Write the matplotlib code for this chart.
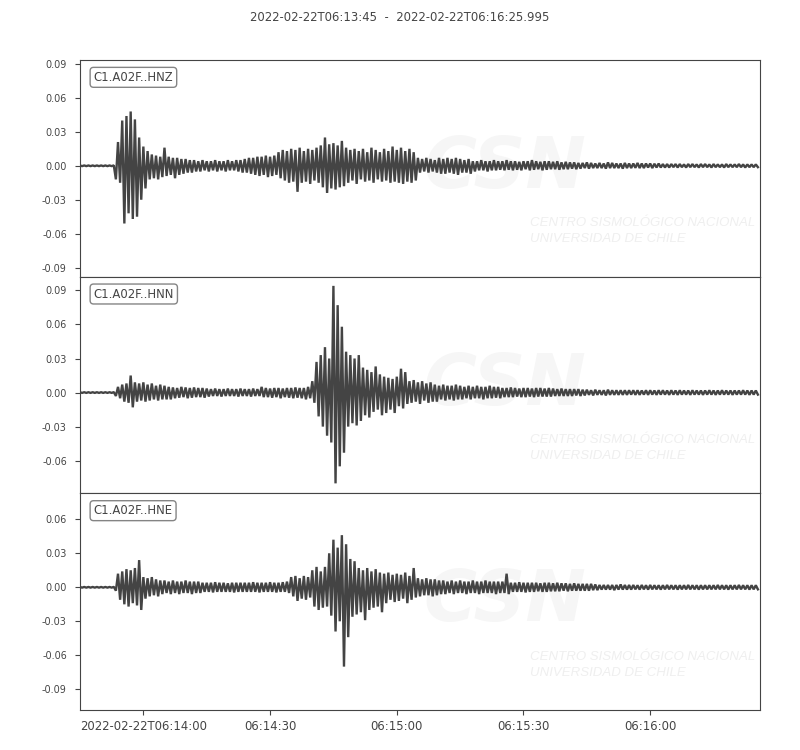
import numpy as np
import matplotlib
matplotlib.use("Agg")
import matplotlib.pyplot as plt
from matplotlib.ticker import MultipleLocator, FixedLocator, FixedFormatter, FormatStrFormatter

# ---------------- data (amplitudes in thousandths, one upper/lower peak per second) ----------
TITLE = "2022-02-22T06:13:45  -  2022-02-22T06:16:25.995"
CHANNELS = ["C1.A02F..HNZ", "C1.A02F..HNN", "C1.A02F..HNE"]
DURATION = 160.995  # seconds after 06:13:45
XTICK_POS = [15, 45, 75, 105, 135]
XTICK_LABELS = ["2022-02-22T06:14:00", "06:14:30", "06:15:00", "06:15:30", "06:16:00"]
YLIMS = [(-0.098, 0.0935), (-0.0888, 0.1021), (-0.1083, 0.0829)]

HNZ_UP = [0.3, 0.3, 0.3, 0.3, 0.3, 0.3, 0.3, 0.3, 0.4, 21,
          40, 44, 48, 41, 25, 17, 13, 10, 9, 8,
          16, 8, 7, 7, 6, 6, 5, 5, 4, 5,
          4, 4, 5, 4, 4, 5, 4, 5, 5, 6,
          7, 7, 8, 8, 9, 8, 9, 12, 14, 13,
          15, 14, 16, 13, 15, 14, 16, 18, 25, 19,
          20, 18, 22, 16, 14, 15, 13, 15, 12, 16,
          14, 12, 15, 13, 17, 14, 16, 13, 15, 12,
          7, 6, 7, 6, 5, 7, 6, 7, 6, 7,
          6, 5, 6, 4, 4, 5, 4, 4, 5, 4,
          4, 5, 4, 4, 3.5, 4, 4, 5, 4, 3.5,
          4, 4, 3.5, 4, 3, 3.5, 3, 3, 2.5, 2.5,
          3, 2.5, 2, 2.5, 2, 3, 2.5, 2, 2, 2.5,
          2, 2, 2.5, 2, 2, 2, 1.8, 2, 1.5, 1.5,
          1.5, 1.5, 1.5, 1.2, 1.5, 1.5, 1.2, 1.5, 1.5, 1.2,
          1.5, 1.2, 1.2, 1.5, 1.2, 1.2, 1.5, 1.2, 1.2, 1.2,
          1.2]
HNZ_LO = [-0.3, -0.3, -0.3, -0.3, -0.3, -0.3, -0.3, -0.3, -12, -15,
          -51, -42, -47, -45, -30, -20, -12, -11, -12, -10,
          -9, -8, -11, -8, -7, -6, -6, -5, -5, -4,
          -5, -4, -5, -4, -5, -4, -4, -5, -6, -6,
          -7, -8, -9, -8, -10, -9, -8, -11, -13, -15,
          -14, -23, -15, -14, -16, -13, -15, -19, -24, -20,
          -21, -19, -18, -15, -13, -16, -12, -14, -13, -15,
          -12, -14, -13, -15, -14, -15, -16, -14, -15, -13,
          -6, -5, -6, -5, -6, -7, -7, -6, -7, -8,
          -6, -6, -7, -5, -4, -4, -5, -4, -4, -3.5,
          -4, -3.5, -4, -3.5, -4, -3, -4, -3.5, -3, -4,
          -3.5, -3, -3, -3.5, -3, -3, -2.5, -3, -2.5, -2,
          -2.5, -2, -2, -2, -2.5, -2, -2, -2, -2.5, -2,
          -2, -1.8, -2, -2, -1.5, -2, -1.5, -1.5, -1.5, -1.5,
          -1.2, -1.5, -1.2, -1.5, -1.2, -1.2, -1.5, -1.2, -1.2, -1.5,
          -1.2, -1.2, -1.5, -1.2, -1.2, -1.2, -1.2, -1.5, -1.2, -1.2,
          -1.2]

HNN_UP = [0.3, 0.3, 0.3, 0.3, 0.3, 0.3, 0.3, 0.3, 0.4, 5,
          7, 8, 15, 9, 8, 9, 7, 8, 6, 7,
          6, 5, 4.5, 4, 5, 4.5, 4, 4.5, 4, 4,
          3.5, 3, 3.5, 3, 3, 3.5, 3, 3, 3.5, 3,
          3, 3.5, 3, 5, 4, 3.5, 4, 4, 3.5, 4,
          4, 4.5, 4, 4, 5, 10, 27, 33, 40, 30,
          94, 77, 58, 36, 33, 30, 33, 22, 20, 18,
          23, 16, 14, 13, 12, 14, 21, 18, 10, 11,
          9, 10, 8, 9, 7, 6, 7, 6, 6, 7,
          6, 5, 6, 5, 6, 5, 5, 6, 5, 5,
          4, 4, 4.5, 4, 3.5, 4, 4, 3.5, 4, 4,
          3.5, 4, 3.5, 3, 3.5, 3, 3, 3, 3, 2.5,
          2.5, 2, 2.5, 2, 2, 2.5, 2, 2, 2, 2,
          2, 2, 2, 1.8, 2, 2, 1.8, 2, 2, 1.8,
          2, 1.8, 2, 1.8, 1.8, 2, 1.8, 1.8, 1.8, 2,
          1.8, 1.8, 2, 1.8, 1.8, 1.8, 1.8, 2, 1.8, 1.8,
          1.8]
HNN_LO = [-0.3, -0.3, -0.3, -0.3, -0.3, -0.3, -0.3, -0.3, -3, -5,
          -8, -9, -13, -8, -7, -8, -7, -6, -7, -6,
          -6, -6, -5, -4.5, -4, -5, -4.5, -4, -4, -4.5,
          -3.5, -3, -3, -3.5, -3, -3, -3, -3.5, -3, -3,
          -3.5, -3, -3, -4, -4, -4.5, -4, -5, -4, -4.5,
          -5, -4.5, -5, -6, -5, -9, -21, -30, -38, -44,
          -80, -65, -53, -30, -27, -29, -25, -20, -22, -17,
          -15, -20, -18, -15, -18, -12, -14, -10, -9, -8,
          -10, -7, -9, -8, -8, -6, -7, -6, -7, -6,
          -6, -5, -6, -5, -5, -6, -5, -5, -4.5, -5,
          -4, -4, -4, -3.5, -4, -4, -3.5, -4, -3.5, -3.5,
          -3.5, -3.5, -3, -3, -3, -3, -3, -2.5, -3, -2.5,
          -2, -2.5, -2, -2, -2.5, -2, -2, -2, -2, -2,
          -1.8, -2, -2, -1.8, -2, -1.8, -2, -1.8, -1.8, -2,
          -1.8, -2, -1.8, -1.8, -2, -1.8, -1.8, -2, -1.8, -1.8,
          -2, -1.8, -1.8, -1.8, -2, -1.8, -1.8, -1.8, -2, -1.8,
          -1.8]

HNE_UP = [0.3, 0.3, 0.3, 0.3, 0.3, 0.3, 0.3, 0.3, 0.4, 12,
          14, 16, 15, 17, 24, 9, 8, 9, 7, 6,
          6, 5, 6, 5, 5, 6, 5, 5, 5, 4,
          4, 4, 4.5, 4, 4, 3.5, 4, 4, 4, 4,
          4, 4.5, 4, 4, 4, 4.5, 4, 4, 4.5, 5,
          9, 10, 8, 10, 9, 15, 18, 14, 18, 30,
          42, 35, 46, 38, 25, 23, 17, 15, 17, 14,
          16, 13, 12, 13, 11, 12, 11, 13, 10, 17,
          8, 7, 8, 7, 7, 6, 6, 5, 6, 5,
          6, 5, 5, 6, 5, 5, 6, 5, 5, 5,
          5, 12, 4, 4, 4.5, 4, 4, 4, 4, 3.5,
          4, 4, 3.5, 4, 3.5, 3.5, 3, 3.5, 3, 3,
          3, 3, 2.5, 2, 2, 2, 2, 2, 2.5, 2,
          2, 2, 1.8, 2, 1.8, 2, 1.8, 1.8, 1.8, 2,
          1.8, 1.8, 1.8, 1.8, 2, 1.8, 1.8, 1.8, 1.8, 1.8,
          1.8, 2, 1.8, 1.8, 1.8, 1.8, 2, 1.8, 1.8, 1.8,
          1.8]
HNE_LO = [-0.3, -0.3, -0.3, -0.3, -0.3, -0.3, -0.3, -0.3, -3, -11,
          -15, -17, -14, -16, -20, -10, -8, -7, -8, -6,
          -5, -6, -5, -6, -5, -5, -6, -5, -5, -4,
          -4, -4.5, -4, -4, -4, -4, -4.5, -4, -4, -4,
          -4, -4, -4.5, -4, -4, -4, -4.5, -4, -4, -5,
          -8, -12, -10, -11, -9, -17, -20, -18, -17, -25,
          -39, -30, -70, -44, -26, -24, -22, -29, -20, -18,
          -17, -22, -14, -11, -13, -12, -10, -14, -11, -9,
          -8, -7, -7, -8, -7, -6, -6, -5, -6, -5,
          -5, -6, -5, -5, -6, -5, -5, -5, -6, -5,
          -5, -6, -4, -4, -4, -4.5, -4, -4, -3.5, -4,
          -4, -3.5, -3.5, -3.5, -3, -3.5, -3, -3, -3, -3,
          -3, -2.5, -2.5, -2, -2, -2, -2.5, -2, -2, -2,
          -2, -1.8, -2, -1.8, -2, -1.8, -1.8, -2, -1.8, -1.8,
          -1.8, -2, -1.8, -1.8, -1.8, -1.8, -2, -1.8, -1.8, -1.8,
          -1.8, -1.8, -1.8, -2, -1.8, -1.8, -1.8, -1.8, -2, -1.8,
          -1.8]

TRACES = [(HNZ_UP, HNZ_LO), (HNN_UP, HNN_LO), (HNE_UP, HNE_LO)]

# ---------------- style ----------------
INK = "#444444"
plt.rcParams["font.family"] = ["DejaVu Sans"]

fig = plt.figure(figsize=(8, 7.5), dpi=100)
fig.subplots_adjust(left=0.1, right=0.95, top=0.92, bottom=0.0533, hspace=0)
axes = fig.subplots(3, 1, sharex=True)

WM_FAMILY = ["Liberation Sans", "DejaVu Sans"]
for ax, label, (up, lo), ylim in zip(axes, CHANNELS, TRACES, YLIMS):
    up = np.asarray(up, float) * 1e-3
    lo = np.asarray(lo, float) * 1e-3
    t = np.arange(len(up), dtype=float)
    x = np.empty(2 * len(t)); y = np.empty(2 * len(t))
    x[0::2] = t; x[1::2] = t + 0.5
    y[0::2] = up; y[1::2] = lo

    # faint watermark
    ax.text(0.625, 0.50, "CSN", transform=ax.transAxes, ha="center", va="center",
            fontsize=52, fontweight="bold", fontstyle="italic", color="#f6f6f6",
            zorder=0, clip_on=True)
    ax.text(0.662, 0.2465, "CENTRO SISMOLÓGICO NACIONAL", transform=ax.transAxes,
            ha="left", va="center", fontsize=9.5, fontstyle="italic", family=WM_FAMILY,
            color="#efefef", zorder=0, clip_on=True)
    ax.text(0.662, 0.173, "UNIVERSIDAD DE CHILE", transform=ax.transAxes,
            ha="left", va="center", fontsize=9.5, fontstyle="italic", family=WM_FAMILY,
            color="#efefef", zorder=0, clip_on=True)

    ax.plot(x, y, color=INK, lw=1.7, solid_joinstyle="bevel", zorder=2)
    ax.set_ylim(*ylim)
    ax.set_xlim(0, DURATION)
    ax.yaxis.set_major_locator(MultipleLocator(0.03))
    ax.yaxis.set_major_formatter(FormatStrFormatter("%.2f"))
    ax.tick_params(axis="y", labelsize="x-small", colors=INK, direction="out",
                   length=3.5, pad=6)
    ax.tick_params(axis="x", labelsize="small", colors=INK, direction="out", length=3.5)
    for sp in ax.spines.values():
        sp.set_color(INK)
    ax.text(0.02, 0.95, label, transform=ax.transAxes, va="top", ha="left",
            fontsize="small", color=INK, zorder=5,
            bbox=dict(boxstyle="round", fc="w", ec="#666666", alpha=0.8))

axes[-1].xaxis.set_major_locator(FixedLocator(XTICK_POS))
axes[-1].xaxis.set_major_formatter(FixedFormatter(XTICK_LABELS))
for ax in axes[:-1]:
    ax.tick_params(axis="x", bottom=False, labelbottom=False)

fig.suptitle(TITLE, x=0.5, y=0.985, fontsize="small", color=INK, va="top")
fig.savefig("out.png", dpi=100)
